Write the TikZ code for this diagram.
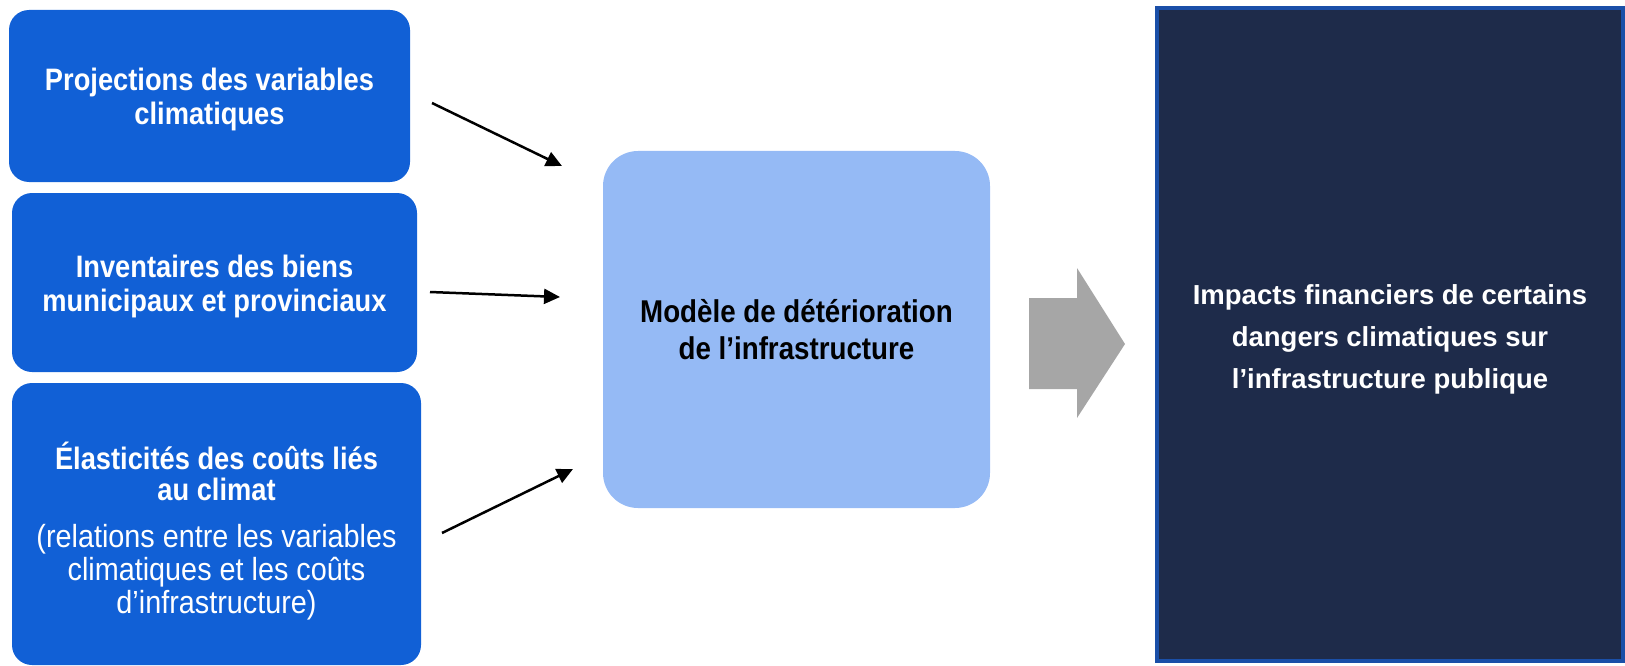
\documentclass[tikz,border=0pt]{standalone}
\usepackage{fontspec}
\setmainfont{Liberation Sans}
\newfontfamily\condb[FakeStretch=0.88]{Liberation Sans}
\newfontfamily\condr[FakeStretch=0.90]{Liberation Sans}
\usetikzlibrary{arrows.meta}
\definecolor{boxblue}{HTML}{1160D6}
\definecolor{lightblue}{HTML}{95BAF5}
\definecolor{navy}{HTML}{1E2B4A}
\definecolor{navyborder}{HTML}{1A4FA8}
\definecolor{arrowgray}{HTML}{A6A6A6}
\tikzset{
  inbox/.style={fill=boxblue, rounded corners=20pt, draw=none, inner sep=0pt},
  intext/.style={text=white, align=center, font=\condb\bfseries\fontsize{31}{34}\selectfont},
  subtext/.style={text=white, align=center, font=\condr\fontsize{32}{33}\selectfont},
  modelbox/.style={fill=lightblue, rounded corners=35pt, draw=none, inner sep=0pt, text=black, align=center,
    font=\condb\bfseries\fontsize{31.5}{37}\selectfont},
  outbox/.style={fill=navy, draw=navyborder, line width=4pt, inner sep=0pt},
  outtext/.style={text=white, align=center, font=\bfseries\fontsize{27.5}{42}\selectfont},
  flow/.style={line width=2.5pt, -{Triangle[length=16pt,width=15pt]}},
  bigarrow/.style={fill=arrowgray, draw=none}
}
\begin{document}
\begin{tikzpicture}[x=1pt,y=-1pt]
\useasboundingbox (0,0) rectangle (1625,666);
% input boxes
\node[inbox, minimum width=401pt, minimum height=172pt] (b1) at (209.5,96) {};
\node[intext] (t1) at (209.5,99.5) {Projections des variables\\climatiques};
\node[inbox, minimum width=405pt, minimum height=179pt] (b2) at (214.5,282.5) {};
\node[intext] (t2) at (214.5,286) {Inventaires des biens\\municipaux et provinciaux};
\node[inbox, minimum width=409pt, minimum height=282pt] (b3) at (216.5,524) {};
\node[intext, font=\condb\bfseries\fontsize{31}{31}\selectfont] (t3a) at (216.5,471) {Élasticités des coûts liés\\au climat};
\node[subtext] (t3b) at (216.5,572) {(relations entre les variables\\climatiques et les coûts\\d’infrastructure)};
% model box
\node[modelbox, minimum width=387pt, minimum height=357pt] (m) at (796.5,329.5) {Modèle de détérioration\\de l’infrastructure};
% output box
\node[outbox, minimum width=466pt, minimum height=653pt] (o) at (1390,334.5) {};
\node[outtext] (ot) at (1390,339) {Impacts financiers de certains\\dangers climatiques sur\\l’infrastructure publique};
% arrow end points
\coordinate (a1s) at (432,103); \coordinate (a1e) at (562,166);
\coordinate (a2s) at (430,292); \coordinate (a2e) at (560,297);
\coordinate (a3s) at (442,533); \coordinate (a3e) at (573,469);
\draw[flow] (a1s) -- (a1e);
\draw[flow] (a2s) -- (a2e);
\draw[flow] (a3s) -- (a3e);
% big gray arrow
\fill[bigarrow] (1029,298) -- (1077,298) -- (1077,268) -- (1125,344) -- (1077,418) -- (1077,389) -- (1029,389) -- cycle;
\end{tikzpicture}
\end{document}
